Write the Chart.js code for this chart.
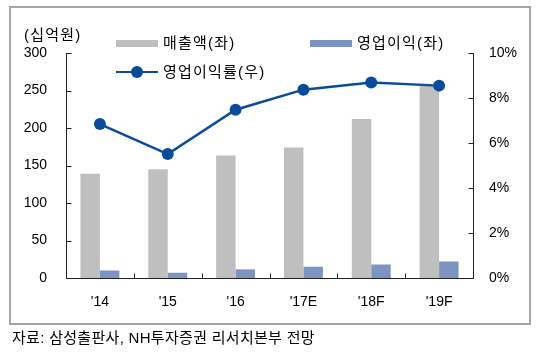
<!DOCTYPE html>
<html><head><meta charset="utf-8">
<script src="https://cdn.jsdelivr.net/npm/chart.js@4.4.1/dist/chart.umd.min.js"></script>
<style>
html,body{margin:0;padding:0;background:#fff;}
#wrap{position:relative;width:540px;height:360px;overflow:hidden;font-family:'Liberation Sans','Noto Sans CJK KR',sans-serif;color:#000;}
#c{position:absolute;left:0;top:0;}
.box{position:absolute;left:9px;top:6px;width:518px;height:315px;border:2px solid #a6a6a6;}
.t{position:absolute;white-space:nowrap;font-size:15px;line-height:18px;letter-spacing:1.2px;}
.s{position:absolute;white-space:nowrap;font-size:15px;line-height:18px;letter-spacing:0.3px;}
.sw{position:absolute;}
</style></head>
<body><div id="wrap">
<div class="box"></div>
<canvas id="c" width="540" height="360"></canvas>
<div class="t" style="left:24px;top:26px;">(십억원)</div>
<div class="sw" style="left:116px;top:40px;width:42px;height:7px;background:#BFBFBF;"></div>
<div class="t" style="left:163px;top:34px;">매출액(좌)</div>
<div class="sw" style="left:310px;top:40px;width:42px;height:7px;background:#7D94C2;"></div>
<div class="t" style="left:357px;top:34px;">영업이익(좌)</div>
<div class="sw" style="left:116px;top:70.5px;width:42px;height:2.5px;background:#0B4C98;"></div>
<div class="sw" style="left:131px;top:66px;width:12px;height:12px;border-radius:50%;background:#0B4C98;"></div>
<div class="t" style="left:163px;top:63px;">영업이익률(우)</div>
<div class="s" style="left:12px;top:329px;">자료: 삼성출판사, NH투자증권 리서치본부 전망</div>
</div>
<script>
const categories = ["'14", "'15", "'16", "'17E", "'18F", "'19F"];
const sales = [139, 145, 163.5, 174, 212, 256];
const operatingProfit = [10, 7, 11.5, 15, 18, 22];
const operatingMargin = [6.84, 5.51, 7.48, 8.37, 8.69, 8.55];
const leftTicks = [0, 50, 100, 150, 200, 250, 300];
const rightTicks = [0, 2, 4, 6, 8, 10];

Chart.defaults.font.family = "'Liberation Sans','Noto Sans CJK KR',sans-serif";
Chart.defaults.font.size = 14;
Chart.defaults.color = '#000';

const axisPlugin = {
  id: 'axisPlugin',
  afterDatasetsDraw(chart) {
    const ctx = chart.ctx, a = chart.chartArea;
    const y = chart.scales.y, y1 = chart.scales.y1, x = chart.scales.x;
    ctx.save();
    ctx.strokeStyle = '#222';
    ctx.lineWidth = 1;
    ctx.beginPath();
    const L = Math.round(a.left) + 0.5, R = Math.round(a.right) + 0.5, B = Math.round(a.bottom) + 0.5;
    ctx.moveTo(L, y.getPixelForValue(300)); ctx.lineTo(L, B);
    ctx.moveTo(L, B); ctx.lineTo(R, B);
    ctx.moveTo(R, y1.getPixelForValue(10)); ctx.lineTo(R, B);
    leftTicks.forEach(v => { const p = Math.round(y.getPixelForValue(v)) + 0.5; ctx.moveTo(L, p); ctx.lineTo(L + 5, p); });
    rightTicks.forEach(v => { const p = Math.round(y1.getPixelForValue(v)) + 0.5; ctx.moveTo(R, p); ctx.lineTo(R - 5, p); });
    for (let i = 1; i < categories.length; i++) {
      const p = Math.round((x.getPixelForValue(i - 1) + x.getPixelForValue(i)) / 2) + 0.5;
      ctx.moveTo(p, B); ctx.lineTo(p, B - 5);
    }
    ctx.stroke();
    ctx.restore();
  }
};

new Chart(document.getElementById('c'), {
  type: 'bar',
  data: {
    labels: categories,
    datasets: [
      { type: 'line', label: '영업이익률(우)', data: operatingMargin, yAxisID: 'y1', order: 0,
        borderColor: '#0B4C98', backgroundColor: '#0B4C98', borderWidth: 2.5,
        pointRadius: 6, pointBackgroundColor: '#0B4C98', pointBorderWidth: 0, tension: 0 },
      { label: '매출액(좌)', data: sales, yAxisID: 'y', order: 1, backgroundColor: '#BFBFBF',
        categoryPercentage: 0.574, barPercentage: 1 },
      { label: '영업이익(좌)', data: operatingProfit, yAxisID: 'y', order: 2, backgroundColor: '#7D94C2',
        categoryPercentage: 0.574, barPercentage: 1 }
    ]
  },
  options: {
    responsive: false, animation: false, devicePixelRatio: 1,
    layout: { padding: { top: 53, bottom: 0, left: 0, right: 0 } },
    plugins: { legend: { display: false }, tooltip: { enabled: false } },
    scales: {
      x: { grid: { display: false }, border: { display: false },
        ticks: { padding: 8, font: { size: 14 } },
        afterFit(s) { s.height = 82; } },
      y: { position: 'left', min: 0, max: 300, grid: { display: false, drawTicks: false }, border: { display: false },
        afterBuildTicks(s) { s.ticks = leftTicks.map(v => ({ value: v })); },
        ticks: { padding: 19, font: { size: 14 } },
        afterFit(s) { s.width = 66; } },
      y1: { position: 'right', min: 0, max: 10, grid: { display: false, drawTicks: false }, border: { display: false },
        afterBuildTicks(s) { s.ticks = rightTicks.map(v => ({ value: v })); },
        ticks: { padding: 16, font: { size: 14 }, callback: v => v + '%' },
        afterFit(s) { s.width = 67; } }
    }
  },
  plugins: [axisPlugin]
});
</script>
</body></html>
